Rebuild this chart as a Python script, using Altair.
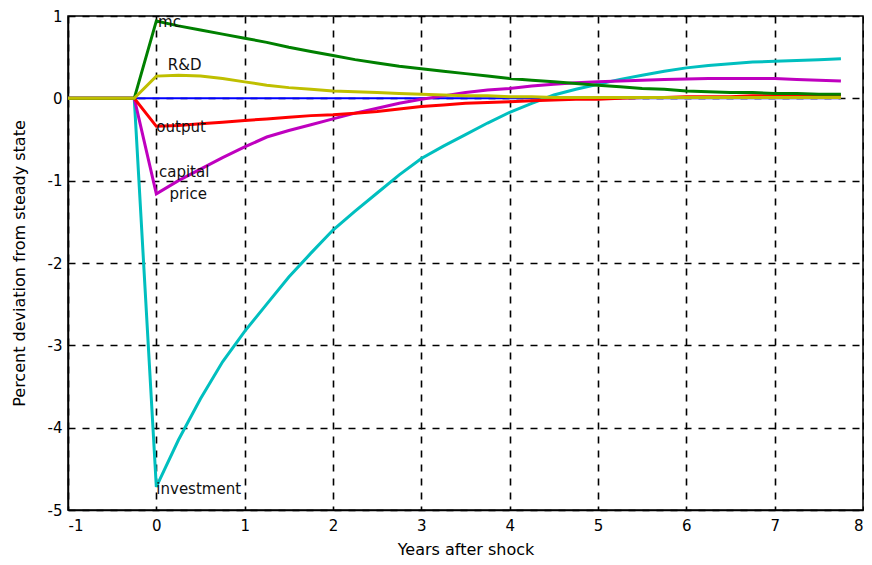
import altair as alt
import pandas as pd

# quarterly horizon, years after shock
years = [-1.0, -0.75, -0.5, -0.25,
         0.0, 0.25, 0.5, 0.75, 1.0, 1.25, 1.5, 1.75,
         2.0, 2.25, 2.5, 2.75, 3.0, 3.25, 3.5, 3.75,
         4.0, 4.25, 4.5, 4.75, 5.0, 5.25, 5.5, 5.75,
         6.0, 6.25, 6.5, 6.75, 7.0, 7.25, 7.5, 7.75]

pre = [0.0, 0.0, 0.0, 0.0]

zero_line = pre + [0.0] * 32

investment = pre + [-4.72, -4.15, -3.65, -3.2, -2.83, -2.5, -2.17, -1.88,
                    -1.6, -1.37, -1.15, -0.93, -0.73, -0.58, -0.44, -0.3,
                    -0.17, -0.06, 0.04, 0.11, 0.17, 0.23, 0.28, 0.33,
                    0.37, 0.4, 0.42, 0.44, 0.45, 0.46, 0.47, 0.48]

capital_price = pre + [-1.16, -1.0, -0.86, -0.72, -0.59, -0.47, -0.39, -0.32,
                       -0.25, -0.18, -0.12, -0.06, -0.01, 0.03, 0.07, 0.1,
                       0.12, 0.15, 0.17, 0.19, 0.2, 0.21, 0.22, 0.23,
                       0.235, 0.24, 0.24, 0.24, 0.24, 0.23, 0.22, 0.21]

output = pre + [-0.34, -0.33, -0.31, -0.29, -0.27, -0.25, -0.23, -0.21,
                -0.2, -0.18, -0.16, -0.13, -0.1, -0.08, -0.06, -0.05,
                -0.04, -0.03, -0.02, -0.01, -0.01, 0.0, 0.01, 0.01,
                0.02, 0.02, 0.02, 0.03, 0.03, 0.03, 0.03, 0.04]

mc = pre + [0.94, 0.88, 0.83, 0.78, 0.73, 0.68, 0.62, 0.57,
            0.52, 0.47, 0.43, 0.39, 0.36, 0.33, 0.3, 0.27,
            0.24, 0.22, 0.2, 0.18, 0.16, 0.14, 0.12, 0.11,
            0.09, 0.08, 0.07, 0.07, 0.06, 0.06, 0.05, 0.05]

rnd = pre + [0.27, 0.28, 0.27, 0.24, 0.2, 0.16, 0.13, 0.11,
             0.09, 0.08, 0.07, 0.06, 0.05, 0.04, 0.03, 0.03,
             0.02, 0.02, 0.01, 0.01, 0.01, 0.01, 0.01, 0.01,
             0.01, 0.01, 0.01, 0.01, 0.01, 0.01, 0.01, 0.01]

series_names = ["zero", "investment", "capital price", "output", "mc", "R&D"]
series_values = [zero_line, investment, capital_price, output, mc, rnd]
series_colors = ["#0000FF", "#00BFBF", "#BF00BF", "#FF0000", "#008000", "#BFBF00"]
series_widths = [2, 3, 3, 3, 3, 3]

label_text = ["mc", "R&D", "output", "capital", "price", "investment"]
label_x = [0.02, 0.13, 0.0, 0.03, 0.15, 0.0]
label_y = [0.93, 0.40, -0.35, -0.90, -1.16, -4.74]

x_ticks = [-1, 0, 1, 2, 3, 4, 5, 6, 7, 8]
y_ticks = [-5, -4, -3, -2, -1, 0, 1]

rows = []
for name, vals in zip(series_names, series_values):
    for xv, yv in zip(years, vals):
        rows.append({"x": xv, "y": yv, "series": name})
df = pd.DataFrame(rows)

labels_df = pd.DataFrame({"x": label_x, "y": label_y, "text": label_text})

FONT = "DejaVu Sans"

xscale = alt.Scale(domain=[-1, 8], nice=False, zero=False)
yscale = alt.Scale(domain=[-5, 1], nice=False, zero=False)

xaxis = alt.Axis(values=x_ticks, title="Years after shock", labelExpr="'' + datum.value",
                 labelPadding=8, titlePadding=8)
yaxis = alt.Axis(values=y_ticks, title="Percent deviation from steady state",
                 labelExpr="'' + datum.value", labelPadding=6, titlePadding=20)

enc_x = alt.X("x:Q", scale=xscale, axis=xaxis)
enc_y = alt.Y("y:Q", scale=yscale, axis=yaxis)

layers = []
for name, col, w in zip(series_names, series_colors, series_widths):
    layers.append(
        alt.Chart(df)
        .transform_filter(alt.datum.series == name)
        .mark_line(color=col, strokeWidth=w, clip=True)
        .encode(x=enc_x, y=enc_y, order="x:Q")
    )

text_layer = alt.Chart(labels_df).mark_text(
    align="left", baseline="middle", font=FONT, fontSize=15, color="#111111"
).encode(x=enc_x, y=enc_y, text="text:N")

chart = alt.layer(*layers, text_layer).properties(
    width=795,
    height=494,
    background="white",
    autosize=alt.AutoSizeParams(type="none"),
    padding={"left": 60, "top": 8, "right": 1, "bottom": 47},
).configure_view(
    stroke="black", strokeWidth=1.5
).configure_axis(
    grid=True,
    gridColor="black",
    gridDash=[7, 7],
    gridWidth=1.6,
    gridOpacity=1,
    domainColor="black",
    domainWidth=1.5,
    ticks=False,
    labelFont=FONT,
    labelFontSize=15,
    labelColor="black",
    titleFont=FONT,
    titleFontSize=16,
    titleFontWeight="normal",
    titleColor="black",
)

chart.save("out.html", embed_options={"renderer": "svg", "actions": False})
